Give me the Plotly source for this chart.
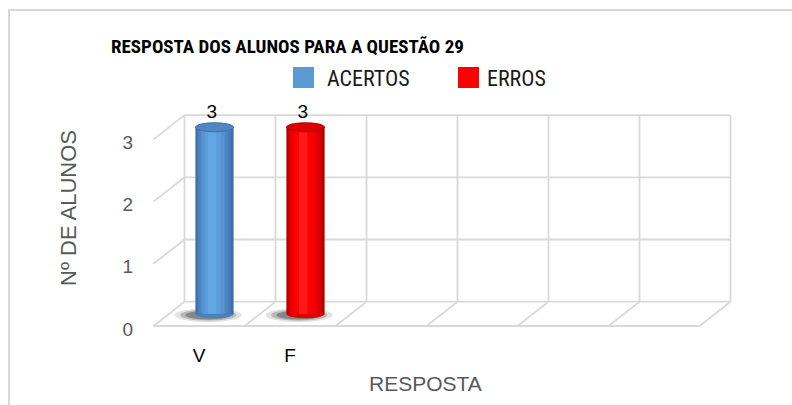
import plotly.graph_objects as go

# ---------------- data ----------------
categories = ["V", "F", "", "", "", ""]
acertos = [3, None, None, None, None, None]
erros = [None, 3, None, None, None, None]
y_ticks = [0, 1, 2, 3]
title_text = "RESPOSTA DOS ALUNOS PARA A QUESTÃO 29"
x_title = "RESPOSTA"
y_title = "Nº DE ALUNOS"

# ---------------- geometry (style) ----------------
W, H = 792, 405
L, R, T, B = 140, 742, 106, 342
X0_PX, PX_PER_CAT = 199, 91
Y0_PX, PX_PER_UNIT = 326, 62.2
DX = 31 / PX_PER_CAT
DY = 24.3 / PX_PER_UNIT
BAR_W = 0.42
RY = 4.5 / PX_PER_UNIT

x_range = [(L - X0_PX) / PX_PER_CAT, (R - X0_PX) / PX_PER_CAT]
y_range = [(Y0_PX - B) / PX_PER_UNIT, (Y0_PX - T) / PX_PER_UNIT]

GRID = "#d9d9d9"
n = len(categories)
vmax = max(y_ticks)

def px2paper(px, py):
    return (px - L) / (R - L), (B - py) / (B - T)

shapes = []
def line(x0, y0, x1, y1):
    shapes.append(dict(type="line", xref="x", yref="y", x0=x0, y0=y0, x1=x1, y1=y1,
                       line=dict(color=GRID, width=1.8), layer="below"))

for v in y_ticks:
    line(-0.5 + DX, v + DY, n - 0.5 + DX, v + DY)
for k in range(n + 1):
    line(-0.5 + k + DX, DY, -0.5 + k + DX, vmax + DY)
for v in y_ticks[1:]:
    line(-0.5, v, -0.5 + DX, v + DY)
line(-0.5, 0, n - 0.5, 0)
for k in range(n + 1):
    line(-0.5 + k, 0, -0.5 + k + DX, DY)

series = [
    ("ACERTOS", acertos, ["#3d6ea8", "#4679b6", "#4e86c3", "#5592cf", "#5b9cda", "#63a6e3"],
     "#4a80bd", "#4f86c4", "#3f70ab", "#5b9bd5"),
    ("ERROS", erros, ["#b00000", "#cc0000", "#e40000", "#f50000", "#ff0000", "#ff1a1a"],
     "#d80000", "#e00000", "#b00000", "#ff0000"),
]
widths = [1.0, 0.9, 0.76, 0.6, 0.42, 0.22]
shifts = [0.0, -0.005, -0.01, -0.015, -0.02, -0.025]

traces = []
for name, vals, strip_cols, bottom_col, top_col, top_line, legend_col in series:
    xs = [i + DX / 2 for i, v in enumerate(vals) if v is not None]
    ys = [v for v in vals if v is not None]
    for x, v in zip(xs, ys):
        for rx, ry, op in [(0.37, 0.11, 0.12), (0.31, 0.09, 0.2), (0.25, 0.07, 0.3)]:
            cx = x - 0.07
            shapes.append(dict(type="circle", xref="x", yref="y", layer="below",
                               x0=cx - rx, x1=cx + rx, y0=DY / 2 - ry - 0.02, y1=DY / 2 + ry - 0.02,
                               fillcolor=f"rgba(20,20,20,{op})", line=dict(width=0)))
        shapes.append(dict(type="circle", xref="x", yref="y", layer="below",
                           x0=x - BAR_W / 2, x1=x + BAR_W / 2, y0=DY / 2 - RY, y1=DY / 2 + RY,
                           fillcolor=bottom_col, line=dict(width=0)))
        shapes.append(dict(type="circle", xref="x", yref="y", layer="above",
                           x0=x - BAR_W / 2, x1=x + BAR_W / 2, y0=v + DY / 2 - RY, y1=v + DY / 2 + RY,
                           fillcolor=top_col, line=dict(color=top_line, width=1)))
    for col, wf, s in zip(strip_cols, widths, shifts):
        w = BAR_W * wf
        traces.append(go.Bar(x=xs, y=ys, base=DY / 2, width=w, offset=-w / 2 + s,
                             marker=dict(color=col, line=dict(width=0)),
                             name=name, showlegend=False, hoverinfo="skip"))
    traces.append(go.Scatter(x=[x - 0.03 for x in xs], y=[v + DY / 2 + RY for v in ys], mode="text",
                             text=[str(v) for v in ys], textposition="top center",
                             textfont=dict(family="Liberation Sans, Arial", size=19, color="#000000"),
                             cliponaxis=False, showlegend=False, hoverinfo="skip"))

fig = go.Figure(traces)

fx0, fy0 = px2paper(9, 10)
fx1, fy1 = px2paper(805, 420)
shapes.append(dict(type="rect", xref="paper", yref="paper", x0=fx0, y0=fy1, x1=fx1, y1=fy0,
                   line=dict(color="#d9d9d9", width=2), fillcolor="rgba(0,0,0,0)", layer="below"))

annotations = []
leg = [("ACERTOS", "#5b9bd5", 293, 325), ("ERROS", "#ff0000", 458, 485)]
for text, col, sq_x, tx in leg:
    a0, b0 = px2paper(sq_x, 88)
    a1, b1 = px2paper(sq_x + 21, 67)
    shapes.append(dict(type="rect", xref="paper", yref="paper", x0=a0, x1=a1, y0=b0, y1=b1,
                       fillcolor=col, line=dict(width=0)))
    ax, ay = px2paper(tx, 78)
    annotations.append(dict(text=text, x=ax, y=ay, xref="paper", yref="paper", xanchor="left",
                            yanchor="middle", showarrow=False,
                            font=dict(family="Roboto Condensed, Liberation Sans", size=22, color="#1a1a1a")))

ax, ay = px2paper(425.5, 383)
annotations.append(dict(text=x_title, x=ax, y=ay, xref="paper", yref="paper", showarrow=False,
                        xanchor="center", yanchor="middle",
                        font=dict(family="Liberation Sans, Arial", size=21, color="#595959")))
ax, ay = px2paper(68, 208)
annotations.append(dict(text=y_title, x=ax, y=ay, xref="paper", yref="paper", showarrow=False,
                        textangle=-90, xanchor="center", yanchor="middle",
                        font=dict(family="Liberation Sans, Arial", size=22, color="#595959")))
ax, ay = px2paper(287.5, 46)
annotations.append(dict(text=f"<b>{title_text}</b>", x=ax, y=ay, xref="paper", yref="paper",
                        showarrow=False, xanchor="center", yanchor="middle",
                        font=dict(family="Roboto Condensed, Liberation Sans", size=19, color="#000000")))

fig.update_layout(
    width=W, height=H, margin=dict(l=L, r=W - R, t=T, b=H - B, pad=0),
    paper_bgcolor="white", plot_bgcolor="white", barmode="overlay",
    showlegend=False, shapes=shapes, annotations=annotations,
    xaxis=dict(range=x_range, tickvals=list(range(n)), ticktext=categories, showgrid=False,
               zeroline=False, showline=False, ticks="", fixedrange=True, automargin=False,
               tickfont=dict(family="Liberation Sans, Arial", size=19, color="#000000")),
    yaxis=dict(range=y_range, tickvals=y_ticks, ticktext=[str(v) for v in y_ticks], showgrid=False,
               zeroline=False, showline=False, ticks="", fixedrange=True, automargin=False,
               ticklabelstandoff=6, ticklabelshift=3,
               tickfont=dict(family="Liberation Sans, Arial", size=19, color="#595959")),
)

fig.write_html("out.html", config={"displayModeBar": False},
               post_script="document.body.style.margin='0px';")
